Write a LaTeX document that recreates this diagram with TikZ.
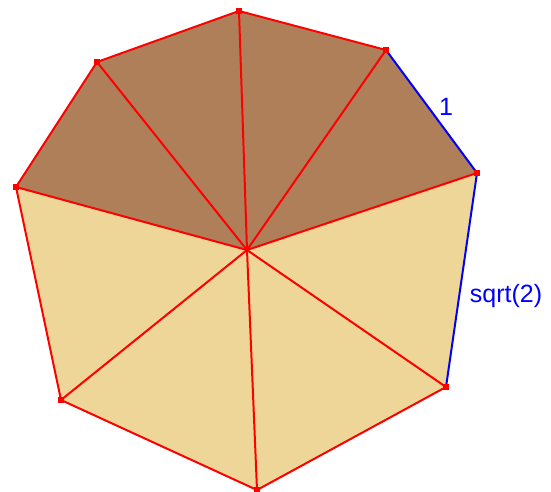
\documentclass[tikz,border=0pt]{standalone}
\usepackage{fontspec}
\setmainfont{Liberation Sans}
\definecolor{upperfill}{RGB}{175,127,90}
\definecolor{lowerfill}{RGB}{238,214,152}
\begin{document}
\begin{tikzpicture}[x=1pt,y=-1pt,line cap=round,line join=round]
  \useasboundingbox (0,0) rectangle (551,492);
  \coordinate (O) at (247,250);
  \coordinate (A) at (239,11);
  \coordinate (B) at (386,50);
  \coordinate (C) at (477,173);
  \coordinate (D) at (446,387);
  \coordinate (E) at (257,490);
  \coordinate (F) at (61,400);
  \coordinate (G) at (16,187);
  \coordinate (H) at (97,62);
  \fill[upperfill] (O) -- (G) -- (H) -- (A) -- (B) -- (C) -- cycle;
  \fill[lowerfill] (O) -- (C) -- (D) -- (E) -- (F) -- (G) -- cycle;
  \foreach \v in {A,B,C,D,E,F,G,H}
    \draw[red,line width=2pt] (O) -- (\v);
  \draw[red,line width=2pt] (D) -- (E) -- (F) -- (G) -- (H) -- (A) -- (B);
  \draw[blue,line width=2pt] (B) -- (C) -- (D);
  \foreach \v in {A,B,C,D,E,F,G,H}
    \fill[red] (\v) +(-2.8,-2.8) rectangle +(2.8,2.8);
  \node[blue,inner sep=0pt,font=\fontsize{25}{30}\selectfont] (one) at (446,107) {1};
  \node[blue,inner sep=0pt,font=\fontsize{25}{30}\selectfont] (root) at (506,296) {sqrt(2)};
\end{tikzpicture}
\end{document}
